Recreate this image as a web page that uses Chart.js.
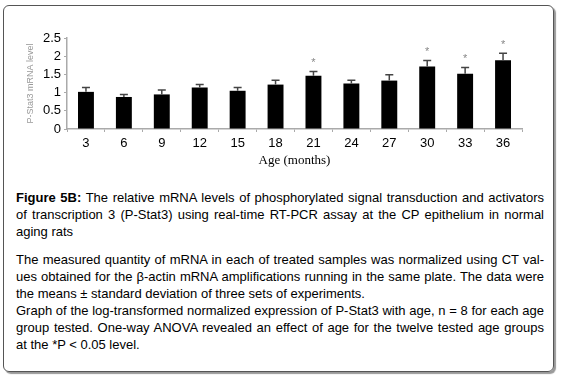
<!DOCTYPE html>
<html>
<head>
<meta charset="utf-8">
<script src="https://cdn.jsdelivr.net/npm/chart.js@4.4.1/dist/chart.umd.min.js"></script>
<style>
  html, body { margin: 0; padding: 0; background: #fff; }
  body { width: 561px; height: 381px; position: relative; overflow: hidden; }
  #frame {
    position: absolute; left: 3px; top: 5px; width: 549px; height: 365px;
    border: 1.5px solid #555; border-radius: 6px;
    box-shadow: 2px 2px 1px #999;
  }
  #chartBox { position: absolute; left: 0; top: 0; width: 561px; height: 172px; }
  #caption {
    position: absolute; left: 16px; top: 189px; width: 528px;
    font-family: "Liberation Sans", Arial, sans-serif; font-size: 13px;
    line-height: 17px; color: #000;
  }
  #caption .l { white-space: nowrap; text-align: justify; text-align-last: justify; }
  #caption .last { white-space: nowrap; text-align: left; }
  #caption .gap { height: 11px; }
</style>
</head>
<body>
<div id="frame"></div>
<div id="chartBox"><canvas id="pstat3Chart"></canvas></div>
<div id="caption">
  <div class="l"><b>Figure 5B:</b> The relative mRNA levels of phosphorylated signal transduction and activators</div>
  <div class="l">of transcription 3 (P-Stat3) using real-time RT-PCR assay at the CP epithelium in normal</div>
  <div class="last">aging rats</div>
  <div class="gap"></div>
  <div class="l">The measured quantity of mRNA in each of treated samples was normalized using CT val-</div>
  <div class="l">ues obtained for the β-actin mRNA amplifications running in the same plate. The data were</div>
  <div class="last">the means ± standard deviation of three sets of experiments.</div>
  <div class="l">Graph of the log-transformed normalized expression of P-Stat3 with age, n = 8 for each age</div>
  <div class="l">group tested. One-way ANOVA revealed an effect of age for the twelve tested age groups</div>
  <div class="last">at the *P &lt; 0.05 level.</div>
</div>
<script>
// edades (meses) y niveles relativos de P-Stat3
const ages = ["3", "6", "9", "12", "15", "18", "21", "24", "27", "30", "33", "36"];
const meanLevel = [1.02, 0.88, 0.95, 1.14, 1.05, 1.22, 1.46, 1.25, 1.33, 1.72, 1.52, 1.89];
const sdLevel = [0.12, 0.07, 0.12, 0.08, 0.09, 0.12, 0.12, 0.09, 0.16, 0.16, 0.17, 0.19];
const significant = [false, false, false, false, false, false, true, false, false, true, true, true];

const tickFont = { family: "'Liberation Sans Narrow', 'Liberation Sans', Arial, sans-serif", size: 13 };

// === BARRAS DE ERROR Y ASTERISCOS ===
const errorBarsPlugin = {
  id: "errorBars",
  afterDatasetsDraw(chart) {
    const ctx = chart.ctx;
    const meta = chart.getDatasetMeta(0);
    const yScale = chart.scales.y;
    ctx.save();
    meta.data.forEach((bar, i) => {
      const x = bar.x;
      const yBase = yScale.getPixelForValue(meanLevel[i]);
      const yTop = yScale.getPixelForValue(meanLevel[i] + sdLevel[i]);
      ctx.strokeStyle = "#444";
      ctx.lineWidth = 1.5;
      ctx.beginPath();
      ctx.moveTo(x, yBase);
      ctx.lineTo(x, yTop);
      ctx.moveTo(x - 4, yTop);
      ctx.lineTo(x + 4, yTop);
      ctx.stroke();
      if (significant[i]) {
        ctx.fillStyle = "#888";
        ctx.font = "11px Arial, sans-serif";
        ctx.textAlign = "center";
        ctx.textBaseline = "alphabetic";
        ctx.fillText("*", x, yTop - 12 + 6.5);
      }
    });
    ctx.restore();
  }
};

new Chart(document.getElementById("pstat3Chart"), {
  type: "bar",
  data: {
    labels: ages,
    datasets: [{
      label: "P-Stat3 mRNA level",
      data: meanLevel,
      backgroundColor: "#000",
      borderWidth: 0,
      categoryPercentage: 1,
      barPercentage: 0.42,
    }],
  },
  options: {
    responsive: true,
    maintainAspectRatio: false,
    animation: false,
    layout: { padding: { left: 0, right: 39, top: 38, bottom: 0 } },
    plugins: {
      legend: { display: false },
      tooltip: { enabled: false },
    },
    scales: {
      x: {
        grid: { display: true, drawOnChartArea: false, offset: true, tickLength: 3, color: "#aaa" },
        border: { color: "#aaa", width: 1.5 },
        ticks: { font: tickFont, color: "#000", padding: 4 },
        title: {
          display: true,
          text: "Age (months)",
          color: "#000",
          font: { family: "'Liberation Serif', 'Times New Roman', serif", size: 13 },
          padding: { top: 0, bottom: 4 },
        },
        afterFit(scale) { scale.height = 43; },
      },
      y: {
        min: 0,
        max: 2.5,
        grid: { display: true, drawOnChartArea: false, tickLength: 3, color: "#aaa" },
        border: { color: "#aaa", width: 1.5 },
        ticks: {
          font: tickFont,
          color: "#000",
          padding: 3,
          stepSize: 0.5,
          autoSkip: false,
          callback: (v) => String(v),
        },
        title: {
          display: true,
          text: "P-Stat3 mRNA level",
          color: "#999",
          font: { family: "Arial, sans-serif", size: 9 },
          padding: { top: 25, bottom: 0 },
        },
        afterFit(scale) { scale.width = 67; },
      },
    },
  },
  plugins: [errorBarsPlugin],
});
</script>
</body>
</html>
